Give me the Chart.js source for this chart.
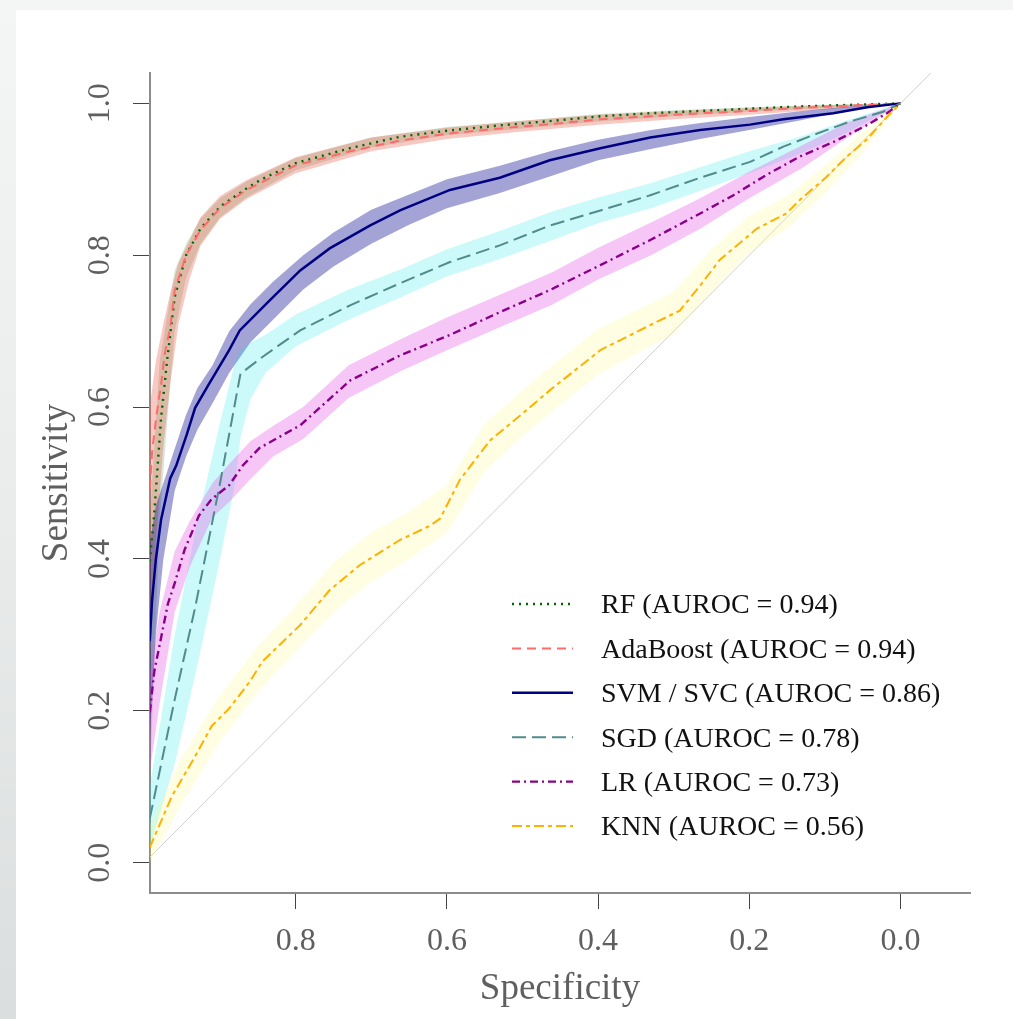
<!DOCTYPE html>
<html><head><meta charset="utf-8">
<script src="https://cdn.jsdelivr.net/npm/chart.js@4/dist/chart.umd.min.js"></script>
<style>
html,body{margin:0;padding:0;width:1013px;height:1019px;overflow:hidden;background:#f4f5f5;}
#strip{position:absolute;left:0;top:0;width:16px;height:1019px;background:linear-gradient(to bottom,#f4f5f5 0%,#eaecec 50%,#dbdede 100%);}
#panel{position:absolute;left:16px;top:10px;right:0;bottom:0;background:#fff;}
#wrap{position:absolute;left:0;top:0;width:1013px;height:1019px;}
</style></head><body>
<div id="strip"></div><div id="panel"></div>
<div id="wrap"><canvas id="c" width="1013" height="1019"></canvas></div>
<script>
// ---------- data ----------
const modelNames = ['RF', 'AdaBoost', 'SVM / SVC', 'SGD', 'LR', 'KNN'];
const aurocs = ['0.94', '0.94', '0.86', '0.78', '0.73', '0.56'];

const xTickValues = [0.8, 0.6, 0.4, 0.2, 0.0];
const xTickLabels = ['0.8', '0.6', '0.4', '0.2', '0.0'];
const yTickValues = [0.0, 0.2, 0.4, 0.6, 0.8, 1.0];
const yTickLabels = ['0.0', '0.2', '0.4', '0.6', '0.8', '1.0'];

const diagSpec = [1.1, -0.1];
const diagSens = [-0.1, 1.1];

const rfSpec = [0.993, 0.987, 0.978, 0.970, 0.960, 0.945, 0.926, 0.900, 0.865, 0.847, 0.801, 0.728, 0.662, 0.600, 0.530, 0.460, 0.397, 0.331, 0.265, 0.200, 0.133, 0.067, 0.000];
const rfSens = [0.397, 0.461, 0.586, 0.662, 0.745, 0.800, 0.835, 0.864, 0.888, 0.899, 0.921, 0.941, 0.956, 0.964, 0.971, 0.977, 0.983, 0.987, 0.990, 0.993, 0.996, 0.998, 1.000];
const rfBandSpec = [0.993, 0.980, 0.970, 0.960, 0.945, 0.926, 0.900, 0.865, 0.800, 0.700, 0.600, 0.500, 0.400, 0.300, 0.200, 0.100, 0.000];
const rfLo = [0.10, 0.45, 0.58, 0.70, 0.77, 0.815, 0.850, 0.876, 0.912, 0.942, 0.958, 0.967, 0.976, 0.983, 0.989, 0.994, 1.0];
const rfHi = [0.45, 0.66, 0.72, 0.78, 0.815, 0.848, 0.875, 0.897, 0.928, 0.955, 0.969, 0.977, 0.986, 0.991, 0.995, 0.998, 1.0];

const adaSpec = [0.993, 0.990, 0.984, 0.978, 0.973, 0.966, 0.960, 0.945, 0.926, 0.900, 0.865, 0.801, 0.728, 0.662, 0.600, 0.530, 0.460, 0.397, 0.331, 0.265, 0.200, 0.133, 0.067, 0.000];
const adaSens = [0.492, 0.540, 0.590, 0.630, 0.671, 0.705, 0.754, 0.800, 0.833, 0.862, 0.886, 0.918, 0.937, 0.951, 0.960, 0.967, 0.973, 0.979, 0.983, 0.987, 0.990, 0.994, 0.997, 1.000];
const adaBandSpec = [0.993, 0.985, 0.975, 0.966, 0.955, 0.940, 0.926, 0.900, 0.865, 0.800, 0.700, 0.600, 0.500, 0.400, 0.300, 0.200, 0.100, 0.000];
const adaLo = [0.25, 0.42, 0.55, 0.63, 0.71, 0.77, 0.812, 0.848, 0.874, 0.908, 0.937, 0.953, 0.963, 0.972, 0.979, 0.985, 0.992, 1.0];
const adaHi = [0.60, 0.66, 0.71, 0.75, 0.79, 0.82, 0.85, 0.878, 0.899, 0.929, 0.955, 0.968, 0.977, 0.985, 0.990, 0.994, 0.998, 1.0];

const svmSpec = [0.993, 0.990, 0.985, 0.978, 0.966, 0.958, 0.944, 0.933, 0.915, 0.888, 0.874, 0.834, 0.794, 0.755, 0.702, 0.662, 0.596, 0.530, 0.464, 0.397, 0.331, 0.265, 0.199, 0.155, 0.089, 0.044, 0.000];
const svmSens = [0.292, 0.345, 0.399, 0.452, 0.506, 0.523, 0.564, 0.599, 0.630, 0.675, 0.701, 0.741, 0.780, 0.809, 0.839, 0.859, 0.886, 0.902, 0.925, 0.941, 0.955, 0.965, 0.972, 0.979, 0.987, 0.995, 1.000];
const svmBandSpec = [0.993, 0.985, 0.975, 0.960, 0.945, 0.930, 0.910, 0.888, 0.860, 0.830, 0.790, 0.750, 0.700, 0.650, 0.600, 0.530, 0.460, 0.400, 0.330, 0.265, 0.200, 0.130, 0.070, 0.000];
const svmLo = [0.16, 0.30, 0.40, 0.49, 0.535, 0.57, 0.605, 0.645, 0.685, 0.715, 0.755, 0.785, 0.815, 0.840, 0.862, 0.882, 0.905, 0.925, 0.940, 0.953, 0.965, 0.978, 0.990, 1.0];
const svmHi = [0.42, 0.47, 0.50, 0.545, 0.59, 0.625, 0.655, 0.70, 0.735, 0.765, 0.80, 0.83, 0.86, 0.88, 0.90, 0.918, 0.938, 0.952, 0.965, 0.974, 0.982, 0.990, 0.996, 1.0];

const sgdSpec = [0.993, 0.960, 0.933, 0.900, 0.873, 0.844, 0.794, 0.728, 0.662, 0.596, 0.530, 0.464, 0.397, 0.331, 0.265, 0.199, 0.155, 0.111, 0.067, 0.023, 0.000];
const sgdSens = [0.058, 0.215, 0.336, 0.500, 0.644, 0.666, 0.701, 0.734, 0.763, 0.791, 0.813, 0.839, 0.859, 0.879, 0.902, 0.923, 0.943, 0.960, 0.976, 0.989, 1.000];
const sgdBandSpec = [0.993, 0.960, 0.930, 0.900, 0.880, 0.873, 0.860, 0.840, 0.800, 0.730, 0.660, 0.600, 0.530, 0.460, 0.400, 0.330, 0.265, 0.200, 0.130, 0.070, 0.000];
const sgdLo = [0.02, 0.13, 0.26, 0.40, 0.50, 0.56, 0.61, 0.645, 0.68, 0.715, 0.745, 0.772, 0.795, 0.820, 0.842, 0.862, 0.885, 0.908, 0.935, 0.962, 1.0];
const sgdHi = [0.10, 0.30, 0.45, 0.58, 0.66, 0.675, 0.685, 0.695, 0.722, 0.755, 0.782, 0.808, 0.832, 0.858, 0.876, 0.895, 0.916, 0.937, 0.957, 0.978, 1.0];

const lrSpec = [0.993, 0.987, 0.969, 0.960, 0.947, 0.928, 0.911, 0.888, 0.870, 0.848, 0.794, 0.728, 0.662, 0.596, 0.530, 0.464, 0.397, 0.331, 0.265, 0.221, 0.177, 0.133, 0.089, 0.045, 0.018, 0.000];
const lrSens = [0.198, 0.252, 0.341, 0.368, 0.412, 0.457, 0.479, 0.497, 0.523, 0.546, 0.576, 0.635, 0.668, 0.695, 0.725, 0.754, 0.787, 0.820, 0.855, 0.879, 0.906, 0.930, 0.949, 0.971, 0.987, 1.000];
const lrBandSpec = [0.993, 0.980, 0.960, 0.940, 0.910, 0.888, 0.860, 0.830, 0.790, 0.730, 0.660, 0.600, 0.530, 0.460, 0.400, 0.330, 0.265, 0.200, 0.130, 0.070, 0.000];
const lrLo = [0.12, 0.21, 0.33, 0.39, 0.455, 0.475, 0.505, 0.535, 0.558, 0.612, 0.648, 0.675, 0.705, 0.735, 0.768, 0.800, 0.835, 0.875, 0.915, 0.955, 1.0];
const lrHi = [0.25, 0.33, 0.41, 0.45, 0.50, 0.525, 0.555, 0.575, 0.600, 0.655, 0.690, 0.718, 0.748, 0.778, 0.810, 0.843, 0.875, 0.910, 0.945, 0.975, 1.0];

const knnSpec = [0.993, 0.964, 0.933, 0.911, 0.888, 0.861, 0.844, 0.794, 0.755, 0.715, 0.662, 0.622, 0.609, 0.583, 0.543, 0.503, 0.464, 0.397, 0.331, 0.292, 0.265, 0.239, 0.190, 0.151, 0.133, 0.098, 0.071, 0.045, 0.018, 0.000];
const knnSens = [0.020, 0.087, 0.140, 0.180, 0.203, 0.238, 0.265, 0.313, 0.359, 0.392, 0.425, 0.444, 0.453, 0.504, 0.556, 0.589, 0.622, 0.675, 0.708, 0.727, 0.760, 0.794, 0.835, 0.855, 0.873, 0.903, 0.930, 0.952, 0.982, 1.000];
const knnBandSpec = [0.993, 0.950, 0.900, 0.850, 0.800, 0.750, 0.700, 0.650, 0.600, 0.550, 0.500, 0.450, 0.400, 0.350, 0.300, 0.250, 0.200, 0.150, 0.100, 0.050, 0.000];
const knnLo = [0.0, 0.08, 0.16, 0.225, 0.278, 0.33, 0.37, 0.40, 0.435, 0.515, 0.562, 0.603, 0.643, 0.670, 0.696, 0.752, 0.803, 0.835, 0.882, 0.935, 1.0];
const knnHi = [0.05, 0.14, 0.22, 0.285, 0.338, 0.395, 0.435, 0.462, 0.497, 0.578, 0.622, 0.663, 0.703, 0.727, 0.752, 0.808, 0.852, 0.878, 0.918, 0.962, 1.0];

// ---------- styles ----------
const FONT = "'Liberation Serif', 'Times New Roman', serif";
const models = [
  {spec: rfSpec, sens: rfSens, bSpec: rfBandSpec, lo: rfLo, hi: rfHi, color: '#006400', dash: [2, 5], width: 2.4, band: 'rgba(0,100,0,0.16)'},
  {spec: adaSpec, sens: adaSens, bSpec: adaBandSpec, lo: adaLo, hi: adaHi, color: '#ff6a6a', dash: [9, 6], width: 2, band: 'rgba(230,90,70,0.33)'},
  {spec: svmSpec, sens: svmSens, bSpec: svmBandSpec, lo: svmLo, hi: svmHi, color: '#000080', dash: [], width: 2.5, band: 'rgba(0,0,139,0.36)'},
  {spec: sgdSpec, sens: sgdSens, bSpec: sgdBandSpec, lo: sgdLo, hi: sgdHi, color: '#528b8b', dash: [14, 6], width: 2, band: 'rgba(0,230,230,0.2)'},
  {spec: lrSpec, sens: lrSens, bSpec: lrBandSpec, lo: lrLo, hi: lrHi, color: '#8b008b', dash: [8, 4, 2, 4], width: 2.4, band: 'rgba(225,70,225,0.3)'},
  {spec: knnSpec, sens: knnSens, bSpec: knnBandSpec, lo: knnLo, hi: knnHi, color: '#ffb000', dash: [10, 4, 4, 4], width: 2, band: 'rgba(255,248,110,0.2)'}
];

const pts = (xs, ys) => xs.map((x, i) => ({x: x, y: ys[i]}));
const datasets = [];
models.forEach((m, i) => {
  datasets.push({
    label: modelNames[i] + ' (AUROC = ' + aurocs[i] + ')',
    data: pts(m.spec, m.sens),
    borderColor: m.color, borderWidth: m.width, borderDash: m.dash,
    pointRadius: 0, fill: false, tension: 0, order: 1 + (5 - i), clip: 0
  });
});
models.forEach((m, i) => {
  const hiIndex = datasets.length;
  datasets.push({
    label: 'band-hi-' + i, data: pts(m.bSpec, m.hi),
    borderColor: 'rgba(0,0,0,0)', borderWidth: 1, pointRadius: 0, fill: false,
    order: 20 - i, clip: 0
  });
  datasets.push({
    label: 'band-lo-' + i, data: pts(m.bSpec, m.lo),
    borderColor: 'rgba(0,0,0,0)', borderWidth: 1, pointRadius: 0,
    fill: hiIndex, backgroundColor: m.band, order: 20 - i, clip: 0
  });
});
datasets.push({
  label: 'diagonal', data: pts(diagSpec, diagSens),
  borderColor: '#d0d0d0', borderWidth: 1, pointRadius: 0, fill: false, order: 40, clip: 0
});

const legendPlugin = {
  id: 'rocLegend',
  afterDatasetsDraw(chart, args, opts) {
    const ctx = chart.ctx;
    ctx.save();
    ctx.font = opts.fontSize + 'px ' + FONT;
    ctx.textBaseline = 'middle';
    ctx.textAlign = 'left';
    for (let i = 0; i < modelNames.length; i++) {
      const ds = chart.data.datasets[i];
      const y = opts.y0 + i * opts.dy;
      ctx.beginPath();
      ctx.setLineDash(ds.borderDash || []);
      ctx.lineWidth = ds.borderWidth;
      ctx.strokeStyle = ds.borderColor;
      ctx.moveTo(opts.x0, y - 2);
      ctx.lineTo(opts.x1, y - 2);
      ctx.stroke();
      ctx.setLineDash([]);
      ctx.fillStyle = opts.color;
      ctx.fillText(ds.label, opts.textX, y);
    }
    ctx.restore();
  }
};

const tickColor = '#5f5f5f';
new Chart(document.getElementById('c'), {
  type: 'line',
  data: {datasets: datasets},
  plugins: [legendPlugin],
  options: {
    responsive: false, devicePixelRatio: 1, animation: false, events: [],
    layout: {padding: {left: 0, right: 43, top: 73, bottom: 0}},
    plugins: {
      legend: {display: false}, tooltip: {enabled: false},
      rocLegend: {x0: 512, x1: 573, textX: 601, y0: 606, dy: 44.4, fontSize: 28, color: '#111'}
    },
    scales: {
      x: {
        type: 'linear', reverse: true, min: -0.0919, max: 0.9927,
        afterBuildTicks: s => { s.ticks = xTickValues.map(v => ({value: v})); },
        afterFit: s => { s.height = 126; },
        ticks: {callback: (v, i) => xTickLabels[i], font: {family: FONT, size: 32}, color: tickColor,
                padding: 13, autoSkip: false, maxRotation: 0, minRotation: 0},
        grid: {drawOnChartArea: false, drawTicks: true, tickLength: 16, tickColor: '#444', tickWidth: 1},
        border: {display: true, color: '#8c8c8c', width: 2},
        title: {display: true, text: 'Specificity', font: {family: FONT, size: 37}, color: tickColor,
                padding: {top: 0, bottom: 8}}
      },
      y: {
        type: 'linear', min: -0.04, max: 1.04,
        afterBuildTicks: s => { s.ticks = yTickValues.map(v => ({value: v})); },
        afterFit: s => { s.width = 150; },
        ticks: {callback: (v, i) => yTickLabels[i], font: {family: FONT, size: 32}, color: tickColor,
                padding: 12.5, minRotation: 90, maxRotation: 90, crossAlign: 'center', autoSkip: false},
        grid: {drawOnChartArea: false, drawTicks: true, tickLength: 17, tickColor: '#444', tickWidth: 1},
        border: {display: true, color: '#8c8c8c', width: 2},
        title: {display: true, text: 'Sensitivity', font: {family: FONT, size: 37}, color: tickColor,
                padding: {top: 35, bottom: 0}}
      }
    }
  }
});
</script>
</body></html>
